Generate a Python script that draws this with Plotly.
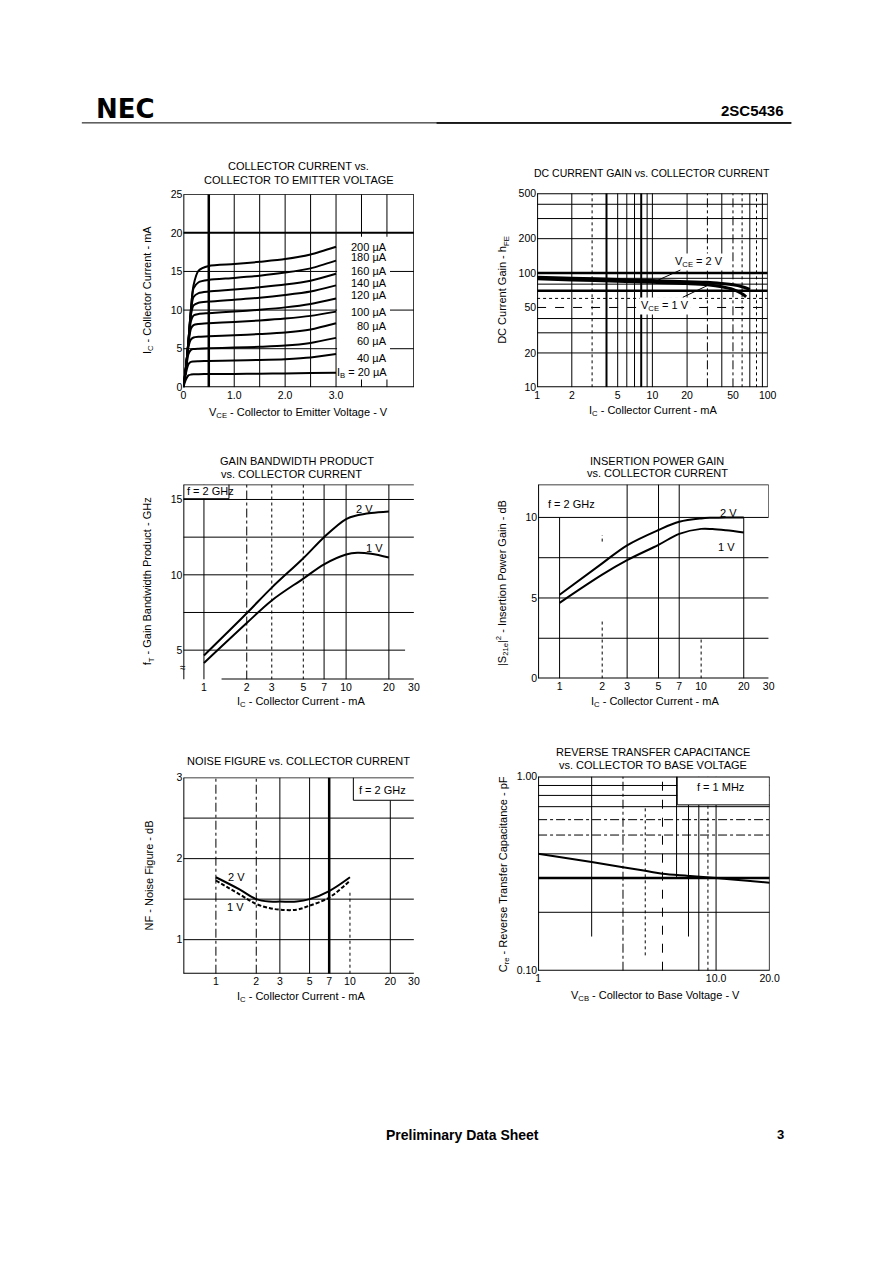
import math
import plotly.graph_objects as go

W, H = 891, 1261
FONT = "Liberation Sans, Arial, Helvetica, sans-serif"

# ---------------- DATA ----------------
# Chart 1: collector current vs VCE
vce = [0, 0.05, 0.1, 0.15, 0.2, 0.3, 0.5, 1.0, 1.5, 2.0, 2.5, 3.0]
ib_labels = ["200 µA", "180 µA", "160 µA", "140 µA", "120 µA", "100 µA",
             "80 µA", "60 µA", "40 µA", "I<sub>B</sub> = 20 µA"]
ic_200 = [0, 2.5, 6.0, 10.2, 13.2, 15.1, 15.7, 15.95, 16.25, 16.6, 17.2, 18.2]
ic_180 = [0, 2.5, 6.0, 10.1, 12.8, 13.6, 13.9, 14.15, 14.45, 14.85, 15.4, 16.4]
ic_160 = [0, 2.5, 6.0, 9.9, 11.7, 12.2, 12.4, 12.65, 12.95, 13.3, 13.8, 14.7]
ic_140 = [0, 2.5, 5.9, 9.4, 10.6, 10.95, 11.1, 11.35, 11.6, 11.95, 12.4, 13.2]
ic_120 = [0, 2.5, 5.8, 8.6, 9.3, 9.5, 9.6, 9.8, 10.05, 10.35, 10.8, 11.5]
ic_100 = [0, 2.5, 5.6, 7.6, 8.05, 8.2, 8.3, 8.45, 8.65, 8.9, 9.25, 9.8]
ic_80 = [0, 2.4, 5.2, 6.2, 6.45, 6.55, 6.6, 6.75, 6.9, 7.1, 7.5, 8.3]
ic_60 = [0, 2.2, 4.3, 4.85, 4.95, 5.0, 5.05, 5.15, 5.25, 5.4, 5.75, 6.4]
ic_40 = [0, 1.8, 3.0, 3.3, 3.35, 3.38, 3.42, 3.48, 3.55, 3.65, 3.85, 4.3]
ic_20 = [0, 1.0, 1.55, 1.65, 1.68, 1.7, 1.72, 1.74, 1.77, 1.8, 1.85, 1.9]
ib_label_y = [18.2, 16.9, 15.1, 13.5, 11.9, 9.7, 7.95, 6.0, 3.85, 1.92]

# Chart 2: DC current gain
ic_gain_2v = [1, 2, 5, 10, 20, 30, 40, 50, 60, 70]
hfe_2v = [92, 90, 88, 86, 84, 83, 81, 79, 76, 72]
ic_gain_1v = [1, 2, 5, 10, 20, 30, 40, 50, 60, 65]
hfe_1v = [89, 87, 85, 83, 81, 79, 76, 72, 66, 62]

# Chart 3: gain bandwidth product
ic_ft = [1, 2, 3, 5, 7, 10, 12, 15, 20]
ft_2v = [4.65, 7.45, 9.15, 11.1, 12.5, 13.7, 13.95, 14.1, 14.2]
ft_1v = [4.15, 6.8, 8.3, 9.75, 10.7, 11.35, 11.47, 11.4, 11.15]

# Chart 4: insertion power gain
ic_s21 = [1, 2, 3, 5, 7, 10, 12, 15, 20]
s21_2v = [5.2, 7.15, 8.27, 9.22, 9.73, 9.94, 9.98, 10.0, 10.0]
s21_1v = [4.7, 6.45, 7.35, 8.3, 8.98, 9.29, 9.28, 9.2, 9.06]

# Chart 5: noise figure
ic_nf = [1, 1.5, 2, 2.5, 3, 4, 5, 7, 10]
nf_2v = [1.77, 1.62, 1.50, 1.47, 1.47, 1.47, 1.50, 1.60, 1.77]
nf_1v = [1.73, 1.56, 1.44, 1.39, 1.37, 1.37, 1.42, 1.52, 1.73]

# Chart 6: reverse transfer capacitance
vcb = [1, 2, 3, 4, 5, 7, 10, 15, 20]
cre = [0.40, 0.363, 0.341, 0.327, 0.316, 0.308, 0.300, 0.291, 0.284]

# tick labels
t1x = [0, 1, 2, 3]; t1xt = ["0", "1.0", "2.0", "3.0"]
t1y = [0, 5, 10, 15, 20, 25]
t2x = [1, 2, 5, 10, 20, 50, 100]
t2y = [10, 20, 50, 100, 200, 500]
tic = [1, 2, 3, 5, 7, 10, 20, 30]
t3y = [5, 10, 15]
t4y = [0, 5, 10]
t5y = [1, 2, 3]
t6x = [1, 10, 20]; t6xt = ["1", "10.0", "20.0"]
t6y = [0.1, 1.0]; t6yt = ["0.10", "1.00"]

# ---------------- LAYOUT GEOMETRY ----------------
frames = {
    1: (183, 417, 190, 385),
    2: (542, 776, 189, 385),
    3: (183, 417, 483, 680),
    4: (543, 777, 483, 679),
    5: (183, 417, 779, 977),
    6: (543, 778, 778, 974),
}

def PX(x):
    return x / W

def PY(y):
    return 1 - y / H

fig = go.Figure()
BLACK = "#000000"

def xa(i):
    return "x" if i == 1 else f"x{i}"

def ya(i):
    return "y" if i == 1 else f"y{i}"

# ---- traces ----
curves1 = [ic_200, ic_180, ic_160, ic_140, ic_120, ic_100, ic_80, ic_60, ic_40, ic_20]
for c in curves1:
    fig.add_trace(go.Scatter(x=vce, y=c, mode="lines", xaxis="x", yaxis="y",
                             line=dict(color=BLACK, width=2, shape="spline", smoothing=0.7),
                             showlegend=False, hoverinfo="skip"))

fig.add_trace(go.Scatter(x=ic_gain_2v, y=hfe_2v, mode="lines", xaxis="x2", yaxis="y2",
                         line=dict(color=BLACK, width=3, shape="spline"), showlegend=False))
fig.add_trace(go.Scatter(x=ic_gain_1v, y=hfe_1v, mode="lines", xaxis="x2", yaxis="y2",
                         line=dict(color=BLACK, width=3, shape="spline"), showlegend=False))

fig.add_trace(go.Scatter(x=ic_ft, y=ft_2v, mode="lines", xaxis="x3", yaxis="y3",
                         line=dict(color=BLACK, width=2, shape="spline"), showlegend=False))
fig.add_trace(go.Scatter(x=ic_ft, y=ft_1v, mode="lines", xaxis="x3", yaxis="y3",
                         line=dict(color=BLACK, width=2, shape="spline"), showlegend=False))

fig.add_trace(go.Scatter(x=ic_s21, y=s21_2v, mode="lines", xaxis="x4", yaxis="y4",
                         line=dict(color=BLACK, width=2, shape="spline"), showlegend=False))
fig.add_trace(go.Scatter(x=ic_s21, y=s21_1v, mode="lines", xaxis="x4", yaxis="y4",
                         line=dict(color=BLACK, width=2, shape="spline"), showlegend=False))

fig.add_trace(go.Scatter(x=ic_nf, y=nf_2v, mode="lines", xaxis="x5", yaxis="y5",
                         line=dict(color=BLACK, width=2, shape="spline"), showlegend=False))
fig.add_trace(go.Scatter(x=ic_nf, y=nf_1v, mode="lines", xaxis="x5", yaxis="y5",
                         line=dict(color=BLACK, width=2, shape="spline", dash="4px,2px"),
                         showlegend=False))

fig.add_trace(go.Scatter(x=vcb, y=cre, mode="lines", xaxis="x6", yaxis="y6",
                         line=dict(color=BLACK, width=2, shape="spline"), showlegend=False))

# ---- axes ----
ranges = {
    1: dict(x=[0, 4.53], y=[0, 25], xt="linear", yt="linear"),
    2: dict(x=[0, 2], y=[1, math.log10(500)], xt="log", yt="log"),
    3: dict(x=[math.log10(0.716), math.log10(30)], y=[3.05, 16], xt="log", yt="linear"),
    4: dict(x=[-0.152, math.log10(30)], y=[0, 12.05], xt="log", yt="linear"),
    5: dict(x=[-0.243, math.log10(30)], y=[0.58, 3.0], xt="log", yt="linear"),
    6: dict(x=[0, math.log10(20)], y=[-1, 0], xt="log", yt="log"),
}
ticks = {
    1: (t1x, t1xt, t1y, [str(v) for v in t1y]),
    2: (t2x, [str(v) for v in t2x], t2y, [str(v) for v in t2y]),
    3: (tic, [str(v) for v in tic], t3y, [str(v) for v in t3y]),
    4: (tic, [str(v) for v in tic], t4y, [str(v) for v in t4y]),
    5: (tic, [str(v) for v in tic], t5y, [str(v) for v in t5y]),
    6: (t6x, t6xt, t6y, t6yt),
}
tickfont = dict(family=FONT, size=10.5, color=BLACK)
for i in range(1, 7):
    L, R, T, B = frames[i]
    r = ranges[i]
    tx, txt, ty, tyt = ticks[i]
    sfx = "" if i == 1 else str(i)
    fig.update_layout(**{
        f"xaxis{sfx}": dict(domain=[PX(L), PX(R)], range=r["x"], type=r["xt"],
                            anchor=ya(i), showgrid=False, zeroline=False, showline=False,
                            ticks="", tickvals=tx, ticktext=txt, tickfont=tickfont,
                            fixedrange=True),
        f"yaxis{sfx}": dict(domain=[PY(B), PY(T)], range=r["y"], type=r["yt"],
                            anchor=xa(i), showgrid=False, zeroline=False, showline=False,
                            ticks="", tickvals=ty, ticktext=tyt, tickfont=tickfont,
                            fixedrange=True),
    })

# ---- shapes (grid, frames, boxes) ----
shapes = []

def seg(i, x0, y0, x1, y1, w=1, dash="solid", layer="below"):
    shapes.append(dict(type="line", xref=xa(i), yref=ya(i), x0=x0, y0=y0, x1=x1, y1=y1,
                       line=dict(color=BLACK, width=w, dash=dash), layer=layer))

def box(i, x0, y0, x1, y1):
    shapes.append(dict(type="rect", xref=xa(i), yref=ya(i), x0=x0, y0=y0, x1=x1, y1=y1,
                       fillcolor="white", line=dict(width=0), layer="below"))

# Chart 1 grid
for v in [1.0, 1.5, 2.0, 2.5, 3.0, 3.5, 4.0]:
    seg(1, v, 0, v, 25, 1)
seg(1, 0.5, 0, 0.5, 25, 2.5)
for v in [5, 10, 15]:
    seg(1, 0, v, 4.53, v, 1)
seg(1, 0, 20, 4.53, 20, 2)
box(1, 3.02, 1.0, 4.06, 19.5)
seg(1, 0, 0, 0, 25, 2, layer="above")
seg(1, 0, 25, 4.53, 25, 1.5, layer="above")
seg(1, 0, 0, 4.53, 0, 2, layer="above")
seg(1, 4.53, 0, 4.53, 25, 1.5, layer="above")

# Chart 2 grid
v2 = {2: (1, "solid"), 3: (1, "dot"), 4: (2, "solid"), 5: (1, "solid"), 6: (1, "solid"),
      7: (1, "solid"), 8: (2, "solid"), 9: (1, "solid"), 10: (1, "solid"), 20: (1, "solid"),
      30: (1, "dashdot"), 40: (1, "solid"), 50: (1, "dashdot"), 60: (1, "dot"),
      70: (1, "solid"), 80: (1, "dot"), 90: (1, "solid")}
for v, (w, d) in v2.items():
    seg(2, v, 10, v, 500, w, d)
h2 = {20: (1, "solid"), 30: (1, "solid"), 40: (1, "solid"), 50: (1, "dash"), 60: (1, "dot"),
      70: (2.5, "solid"), 80: (1, "solid"), 90: (1, "solid"), 100: (2.5, "solid"),
      200: (1, "solid"), 300: (1, "solid"), 400: (1, "solid")}
for v, (w, d) in h2.items():
    seg(2, 1, v, 100, v, w, d)
seg(2, 1, 10, 1, 500, 2, layer="above")
seg(2, 1, 500, 100, 500, 2, layer="above")
seg(2, 1, 10, 100, 10, 2, layer="above")
seg(2, 100, 10, 100, 500, 1.5, layer="above")

# Chart 3 grid
x3lo = 10 ** ranges[3]["x"][0]
for v, d in [(1, "solid"), (2, "dashdot"), (3, "dot"), (5, "dot"), (7, "solid"),
             (10, "solid"), (20, "solid")]:
    seg(3, v, 3.05, v, 16, 1, d)
for v in [15, 12.5, 10, 7.5]:
    seg(3, x3lo, v, 30, v, 1)
seg(3, x3lo, 5, 26, 5, 1)
box(3, x3lo, 15.05, 1.5, 16)
seg(3, 1.5, 15.05, 1.5, 16, 1)
seg(3, x3lo, 15.05, 1.5, 15.05, 1)
seg(3, x3lo, 3.05, x3lo, 16, 2, layer="above")
seg(3, x3lo, 16, 30, 16, 1.5, layer="above")
seg(3, 1.33, 3.05, 30, 3.05, 2, layer="above")

# Chart 4 grid
x4lo = 10 ** ranges[4]["x"][0]
seg(4, 1, 0, 1, 10, 1)
seg(4, 2, 0, 2, 3.7, 1, "dot")
seg(4, 2, 8.5, 2, 8.9, 1, "dot")
for v in [3, 5, 7]:
    seg(4, v, 0, v, 12.05, 1)
seg(4, 10, 0, 10, 2.5, 1, "dot")
seg(4, 20, 0, 20, 10, 1)
for v in [10, 7.5, 5, 2.5]:
    seg(4, x4lo, v, 30, v, 1)
seg(4, x4lo, 0, x4lo, 12.05, 2, layer="above")
seg(4, x4lo, 12.05, 30, 12.05, 1.5, layer="above")
seg(4, x4lo, 0, 30, 0, 2, layer="above")
seg(4, 30, 10, 30, 12.05, 1, layer="above")

# Chart 5 grid
x5lo = 10 ** ranges[5]["x"][0]
seg(5, 1, 0.58, 1, 3, 1, "dashdot")
seg(5, 2, 0.58, 2, 3, 1, "dashdot")
seg(5, 3, 0.58, 3, 3, 1)
seg(5, 5, 0.58, 5, 3, 1)
seg(5, 7, 0.58, 7, 3, 2.5)
seg(5, 10, 0.58, 10, 1.6, 1, "dot")
seg(5, 20, 0.58, 20, 2.72, 1)
for v in [2.5, 2, 1.5, 1]:
    seg(5, x5lo, v, 30, v, 1)
box(5, 10.6, 2.72, 30, 3)
seg(5, 10.6, 2.72, 10.6, 3, 1)
seg(5, 10.6, 2.72, 30, 2.72, 1)
seg(5, x5lo, 0.58, x5lo, 3, 2, layer="above")
seg(5, x5lo, 3, 30, 3, 1.5, layer="above")
seg(5, x5lo, 0.58, 30, 0.58, 2, layer="above")

# Chart 6 grid
for v, w, d in [(0.9, 1, "solid"), (0.8, 1, "solid"), (0.7, 1, "solid"),
                (0.6, 1, "dashdot"), (0.5, 1, "dashdot"), (0.4, 1, "solid"),
                (0.3, 2.5, "solid"), (0.2, 1, "solid")]:
    seg(6, 1, v, 20, v, w, d)
seg(6, 2, 0.15, 2, 1, 1)
seg(6, 3, 0.1, 3, 1, 1, "dashdot")
seg(6, 4, 0.12, 4, 0.7, 1, "dot")
seg(6, 5, 0.1, 5, 1, 1, "dash")
seg(6, 6, 0.3, 6, 1, 1)
seg(6, 7, 0.15, 7, 0.8, 1)
seg(6, 8, 0.1, 8, 1, 1)
seg(6, 9, 0.1, 9, 1, 1, "dot")
seg(6, 10, 0.1, 10, 1, 1)
box(6, 6.05, 0.715, 20, 1)
seg(6, 6.05, 0.715, 6.05, 1, 1)
seg(6, 6.05, 0.715, 20, 0.715, 1)
seg(6, 1, 0.1, 1, 1, 2, layer="above")
seg(6, 1, 1, 20, 1, 2, layer="above")
seg(6, 1, 0.1, 20, 0.1, 2, layer="above")
seg(6, 20, 0.1, 20, 1, 1.5, layer="above")

# header rule
shapes.append(dict(type="line", xref="paper", yref="paper", x0=PX(80), x1=PX(800),
                   y0=PY(118), y1=PY(118), line=dict(color=BLACK, width=1)))
shapes.append(dict(type="line", xref="paper", yref="paper", x0=PX(440), x1=PX(800),
                   y0=PY(118), y1=PY(118), line=dict(color=BLACK, width=1.5)))

fig.update_layout(shapes=shapes)

# ---- annotations ----
ann = []

def ptext(x, y, text, size=11, angle=0, bold=False, xanchor="center", family=FONT):
    t = f"<b>{text}</b>" if bold else text
    ann.append(dict(xref="paper", yref="paper", x=PX(x), y=PY(y), text=t, showarrow=False,
                    font=dict(family=family, size=size, color=BLACK), textangle=angle,
                    xanchor=xanchor, yanchor="middle"))

def dtext(i, x, y, text, size=11, xanchor="center", logx=False, logy=False):
    ann.append(dict(xref=xa(i), yref=ya(i), x=math.log10(x) if logx else x,
                    y=math.log10(y) if logy else y, text=text, showarrow=False,
                    font=dict(family=FONT, size=size, color=BLACK),
                    xanchor=xanchor, yanchor="middle"))

# header / footer
ptext(124, 104, "NEC", size=26, bold=True, family="DejaVu Sans, Liberation Sans, sans-serif")
ptext(761, 105, "2SC5436", size=15, bold=True)
ptext(466, 1140, "Preliminary Data Sheet", size=14, bold=True)
ptext(789, 1139, "3", size=13, bold=True)

# chart titles
ptext(300, 162, "COLLECTOR CURRENT vs.")
ptext(300, 176, "COLLECTOR TO EMITTER VOLTAGE")
ptext(659, 169, "DC CURRENT GAIN vs. COLLECTOR CURRENT", size=10.5)
ptext(298, 459, "GAIN BANDWIDTH PRODUCT")
ptext(293, 472, "vs. COLLECTOR CURRENT")
ptext(664, 459, "INSERTION POWER GAIN")
ptext(664, 471, "vs. COLLECTOR CURRENT")
ptext(300, 762, "NOISE FIGURE vs. COLLECTOR CURRENT")
ptext(660, 753, "REVERSE TRANSFER CAPACITANCE")
ptext(660, 766, "vs. COLLECTOR TO BASE VOLTAGE")

# axis titles
ptext(147, 287, "I<sub>C</sub> - Collector Current - mA", angle=-90)
ptext(300, 411, "V<sub>CE</sub> - Collector to Emitter Voltage - V")
ptext(508, 287, "DC Current Gain - h<sub>FE</sub>", angle=-90)
ptext(660, 409, "I<sub>C</sub> - Collector Current - mA")
ptext(148, 581, "f<sub>T</sub> - Gain Bandwidth Product - GHz", angle=-90)
ptext(302, 703, "I<sub>C</sub> - Collector Current - mA")
ptext(507, 583, "|S<sub>21e</sub>|<sup>2</sup> - Insertion Power Gain - dB", angle=-90)
ptext(662, 703, "I<sub>C</sub> - Collector Current - mA")
ptext(148, 878, "NF - Noise Figure - dB", angle=-90)
ptext(302, 1001, "I<sub>C</sub> - Collector Current - mA")
ptext(508, 877, "C<sub>re</sub> - Reverse Transfer Capacitance - pF", angle=-90)
ptext(662, 1000, "V<sub>CB</sub> - Collector to Base Voltage - V")

# chart 1 curve labels
for lab, yv in zip(ib_labels, ib_label_y):
    dtext(1, 4.05, yv, lab, xanchor="right")

# chart 2 labels with leader lines
ann.append(dict(xref="x2", yref="y2", x=math.log10(11), y=math.log10(hfe_2v[3]),
                text="V<sub>CE</sub> = 2 V", showarrow=True, arrowhead=0, arrowwidth=1,
                arrowcolor=BLACK, ax=42, ay=-19, bgcolor="white", borderpad=1,
                font=dict(family=FONT, size=11, color=BLACK)))
ann.append(dict(xref="x2", yref="y2", x=math.log10(31), y=math.log10(hfe_1v[5]),
                text="V<sub>CE</sub> = 1 V", showarrow=True, arrowhead=0, arrowwidth=1,
                arrowcolor=BLACK, ax=-44, ay=21, bgcolor="white", borderpad=1,
                font=dict(family=FONT, size=11, color=BLACK)))

# chart 3
dtext(3, 13.5, 14.4, "2 V", logx=True)
dtext(3, 15.8, 11.8, "1 V", logx=True)
ptext(211, 490, "f = 2 GHz")
ptext(183, 668, "≈", size=10)
# chart 4
dtext(4, 15.5, 10.3, "2 V", logx=True)
dtext(4, 15.0, 8.14, "1 V", logx=True)
ptext(577, 503, "f = 2 GHz")
# chart 5
dtext(5, 1.43, 1.77, "2 V", logx=True)
dtext(5, 1.41, 1.40, "1 V", logx=True)
ptext(385, 792, "f = 2 GHz")
# chart 6
ptext(728, 788, "f = 1 MHz")

fig.update_layout(annotations=ann)

fig.update_layout(width=W, height=H, autosize=False,
                  margin=dict(l=0, r=0, t=0, b=0, pad=0),
                  paper_bgcolor="white", plot_bgcolor="white",
                  font=dict(family=FONT, size=11, color=BLACK), showlegend=False)

fig.write_html("out.html", config={"staticPlot": True},
               post_script="document.body.style.margin='0';document.body.style.overflow='hidden';")
